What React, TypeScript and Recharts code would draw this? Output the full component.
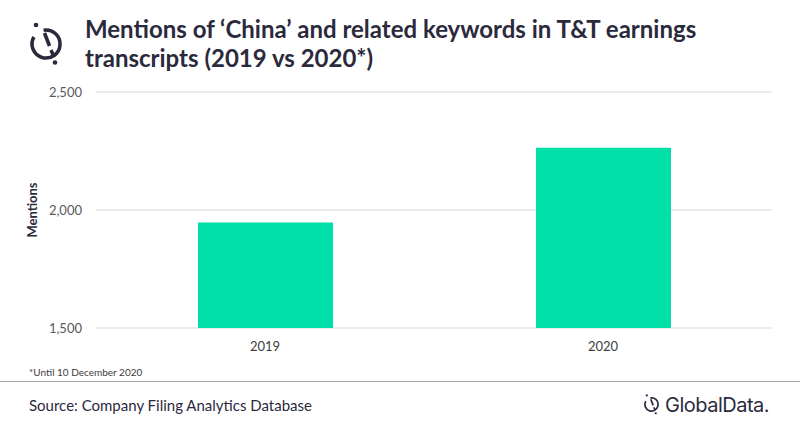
import React from 'react'
import { BarChart, Bar, XAxis, YAxis, CartesianGrid } from 'recharts'

const years = ['2019', '2020']
const mentions = [1947, 2264]
const yTicks = [1500, 2000, 2500]

const data = years.map((year, i) => ({ year, mentions: mentions[i] }))

const dark = '#2b2a3d'
const font = 'Lato, "Open Sans", sans-serif'

// GlobalData ring icon, drawn in a 40x44 box
function Mark({ x, y, w }: { x: number; y: number; w: number }) {
  return (
    <svg width={w} height={(w * 44) / 40} viewBox="0 0 40 44" style={{ position: 'absolute', left: x, top: y }}>
      <path d="M 17.6 8.2 A 14 14 0 1 1 7.9 15" fill="none" stroke={dark} strokeWidth={3.6} />
      <path d="M 18.5 11 L 23.5 24 M 25 28 L 27.5 34" stroke={dark} strokeWidth={3.6} />
      <circle cx={10} cy={3} r={2.3} fill={dark} />
      <circle cx={29} cy={40.5} r={2.3} fill={dark} />
    </svg>
  )
}

export default function App() {
  return (
    <div style={{ position: 'absolute', left: 0, top: 0, width: 800, height: 428, background: '#fff', fontFamily: font }}>
      <Mark x={26} y={22} w={40} />
      <div style={{ position: 'absolute', left: 85, top: 14, fontSize: 24, fontWeight: 700, color: dark, lineHeight: '29px' }}>
        Mentions of ‘China’ and related keywords in T&amp;T earnings
        <br />
        transcripts (2019 vs 2020*)
      </div>
      <BarChart width={800} height={428} data={data} margin={{ top: 92, right: 28, bottom: 70, left: 0 }}>
        <CartesianGrid vertical={false} stroke="#d9d9d9" />
        <XAxis
          dataKey="year"
          axisLine={false}
          tickLine={false}
          height={30}
          tick={{ fill: '#404040', fontSize: 13, fontFamily: font }}
          tickMargin={8}
        />
        <YAxis
          domain={[1500, 2500]}
          ticks={yTicks}
          width={96}
          axisLine={false}
          tickLine={false}
          tickMargin={8}
          tickFormatter={(v: number) => v.toLocaleString('en-US')}
          tick={{ fill: '#595959', fontSize: 13, fontFamily: font }}
          label={{
            value: 'Mentions',
            angle: -90,
            position: 'insideLeft',
            offset: 32,
            style: { fill: dark, fontSize: 13, fontWeight: 700, fontFamily: font, textAnchor: 'middle' },
          }}
        />
        <Bar dataKey="mentions" fill="#00dfa7" barSize={135} isAnimationActive={false} />
      </BarChart>
      <div style={{ position: 'absolute', left: 29, top: 366, fontSize: 10, color: '#404040' }}>*Until 10 December 2020</div>
      <div style={{ position: 'absolute', left: 0, top: 381, width: 800, height: 1, background: '#a6a6a6' }} />
      <div style={{ position: 'absolute', left: 29, top: 396, fontSize: 15, color: dark }}>
        Source: Company Filing Analytics Database
      </div>
      <Mark x={642} y={394} w={19} />
      <div style={{ position: 'absolute', left: 665, top: 393, fontSize: 20, color: dark, fontFamily: 'Inter, sans-serif', letterSpacing: -0.5 }}>
        GlobalData.
      </div>
    </div>
  )
}
